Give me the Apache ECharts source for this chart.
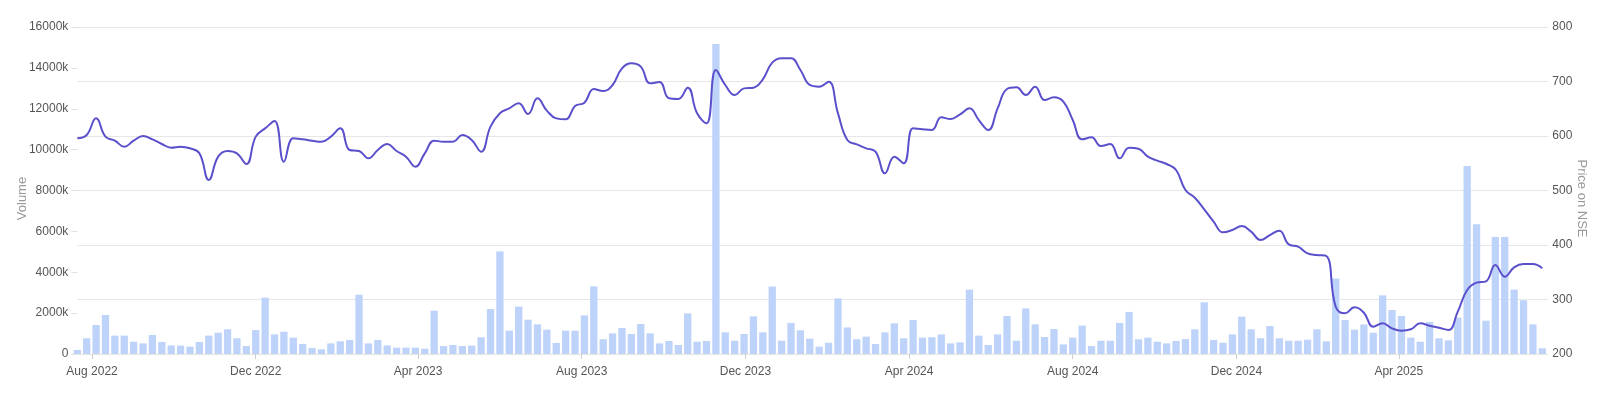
<!DOCTYPE html>
<html>
<head>
<meta charset="utf-8">
<script src="https://cdn.jsdelivr.net/npm/echarts@6/dist/echarts.min.js"></script>
<style>
html,body{margin:0;padding:0;background:#fff;}
#c{width:1600px;height:395px;}
</style>
</head>
<body>
<div id="c"></div>
<script>
// Weekly observations, first week 21 Jul 2022
const startDate = [2022, 6, 21];
const volumeK = [
 200,770,1420,1910,900,900,600,520,930,590,
 420,410,360,590,900,1040,1210,770,390,1170,
 2760,960,1090,800,490,290,230,520,620,690,
 2900,520,690,420,310,310,310,260,2120,390,
 440,390,410,820,2200,5020,1140,2320,1680,1450,
 1190,540,1140,1140,1890,3310,720,1010,1270,980,
 1470,1010,520,640,440,1990,600,640,15170,1060,
 650,980,1840,1060,3300,650,1520,1160,750,360,
 550,2720,1300,720,850,490,1060,1500,770,1660,
 800,820,960,520,570,3150,900,440,960,1860,
 650,2230,1450,830,1220,470,800,1390,390,650,
 650,1520,2060,720,800,600,520,640,730,1210,
 2530,690,550,960,1830,1210,770,1370,770,650,
 650,700,1210,620,3690,1660,1190,1450,1040,2870,
 2150,1860,800,600,1570,770,670,1780,9200,6350,
 1630,5730,5730,3150,2630,1450,280
];
const priceNSE = [
 595.7,601.8,632.4,598.8,591.4,580.4,591.4,600.0,593.9,585.3,
 578.6,580.4,577.4,568.2,519.3,562.1,572.5,568.2,548.6,598.8,
 614.0,627.5,552.9,595.7,593.9,591.4,589.6,598.8,614.0,574.3,
 572.5,559.0,574.3,585.3,572.5,562.1,543.7,568.2,591.4,589.6,
 589.6,601.8,592.6,571.2,617.1,641.6,650.7,659.9,640.4,669.1,
 646.5,632.4,630.6,655.0,661.1,686.2,682.5,693.6,724.1,733.3,
 727.2,696.6,699.1,669.1,667.9,688.7,641.6,623.2,721.1,693.6,
 675.2,687.4,688.7,704.0,734.5,742.5,742.5,721.1,693.6,690.5,
 699.7,641.6,592.6,584.7,577.4,571.2,531.5,562.1,549.8,614.0,
 612.2,611.0,634.2,631.2,639.7,650.7,629.3,611.0,650.7,686.2,
 689.3,675.2,690.5,666.0,670.9,663.0,629.3,593.9,597.5,581.6,
 585.3,559.0,578.6,576.7,562.1,554.7,548.6,537.6,501.0,486.8,
 465.4,442.8,423.2,427.5,434.9,424.5,409.2,418.3,426.3,401.2,
 396.9,384.7,381.6,379.8,286.8,274.6,285.6,275.8,250.2,256.3,
 247.1,242.8,245.3,256.3,252.0,248.3,244.0,277.7,317.4,330.9,
 333.3,363.3,341.9,359.0,365.1,365.1,357.2
];
const xTickDates = [[2022,7,1],[2022,11,1],[2023,3,1],[2023,7,1],[2023,11,1],[2024,3,1],[2024,7,1],[2024,11,1],[2025,3,1]];
const monthNames = ['Jan','Feb','Mar','Apr','May','Jun','Jul','Aug','Sep','Oct','Nov','Dec'];
const volumeTicks = [0,2000,4000,6000,8000,10000,12000,14000,16000];
const priceTicks = [200,300,400,500,600,700,800];

const weeks = volumeK.map((_, i) => new Date(startDate[0], startDate[1], startDate[2] + 7 * i).getTime());
const tickTimes = xTickDates.map(d => new Date(d[0], d[1], d[2]).getTime());

const chart = echarts.init(document.getElementById('c'), null, {renderer: 'canvas'});
const labelFont = {color: '#555', fontSize: 12, fontFamily: 'Liberation Sans, Arial, Helvetica, sans-serif'};
chart.setOption({
  animation: false,
  grid: {left: 77.3, right: 57.7, top: 27, bottom: 41, outerBoundsMode: 'none', containLabel: false},
  xAxis: {
    type: 'value',
    min: weeks[0],
    max: weeks[weeks.length - 1],
    axisLine: {show: false},
    axisTick: {show: true, length: 5, lineStyle: {color: '#ccc'}, customValues: tickTimes},
    splitLine: {show: false},
    axisLabel: Object.assign({
      customValues: tickTimes,
      margin: 12,
      formatter: v => { const d = new Date(v); return monthNames[d.getMonth()] + ' ' + d.getFullYear(); }
    }, labelFont)
  },
  yAxis: [
    {
      type: 'value', min: volumeTicks[0], max: volumeTicks[volumeTicks.length - 1], interval: 2000,
      name: 'Volume', nameLocation: 'middle', nameGap: 48, nameMoveOverlap: false,
      nameTextStyle: {color: '#999', fontSize: 13, fontFamily: 'Liberation Sans, Arial, sans-serif', padding: [0, 16, 0, 0]},
      axisLine: {show: false},
      axisTick: {show: true, length: 6, lineStyle: {color: '#e0e0e0'}},
      splitLine: {show: false},
      axisLabel: Object.assign({margin: 9, formatter: v => v === 0 ? '0' : v + 'k'}, labelFont)
    },
    {
      type: 'value', min: priceTicks[0], max: priceTicks[priceTicks.length - 1], interval: 100,
      position: 'right',
      name: 'Price on NSE', nameLocation: 'middle', nameGap: 33, nameRotate: -90, nameMoveOverlap: false,
      nameTextStyle: {color: '#999', fontSize: 13, fontFamily: 'Liberation Sans, Arial, sans-serif', padding: [0, 0, 0, 16]},
      axisLine: {show: false},
      axisTick: {show: true, length: 6, lineStyle: {color: '#e6e6e6'}},
      splitLine: {show: true, lineStyle: {color: '#e6e6e6', width: 1}},
      axisLabel: Object.assign({margin: 10}, labelFont)
    }
  ],
  series: [
    {
      type: 'bar', name: 'Volume', yAxisIndex: 0, barWidth: 7.3, clip: true,
      itemStyle: {color: '#bed3f9'},
      data: weeks.map((t, i) => [t, volumeK[i]])
    },
    {
      type: 'line', name: 'Price', yAxisIndex: 1, smooth: 0.45, showSymbol: false, clip: true,
      lineStyle: {color: '#5a50cb', width: 2},
      data: weeks.map((t, i) => [t, priceNSE[i]])
    }
  ]
});
</script>
</body>
</html>
